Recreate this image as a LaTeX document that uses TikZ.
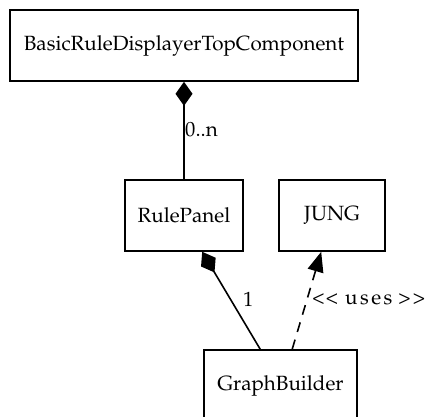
\documentclass[tikz,border=0pt]{standalone}
\usepackage[T1]{fontenc}
\usepackage{mathpazo}
\usetikzlibrary{arrows.meta}
\begin{document}
\begin{tikzpicture}[x=1pt,y=-1pt,
  cls/.style={draw,line width=1.6pt,minimum height=71pt,inner sep=0pt,font=\fontsize{20.6}{24}\selectfont},
  lbl/.style={font=\fontsize{20.6}{24}\selectfont,inner sep=0pt},
  comp/.style={line width=1.6pt,{Diamond[length=24pt,width=17pt,fill=black]}-},
  uses/.style={line width=1.6pt,dash pattern=on 10pt off 8pt,-{Triangle[length=20pt,width=16pt,fill=black]}}]
\useasboundingbox (0,0) rectangle (425,416);
\clip (0,0) rectangle (425,416);
\node[cls,minimum width=348pt] (top) at (184,45.5) {BasicRuleDisplayerTopComponent};
\node[cls,minimum width=118pt] (rp) at (184,215.5) {RulePanel};
\node[cls,minimum width=106pt] (jung) at (332,215.5) {JUNG};
\node[cls,minimum width=153pt] (gb) at (280.5,385.5) {GraphBuilder};
\draw[comp] (top.south) -- (rp.north);
\draw[comp] ([xshift=78pt]rp.south west) -- ([xshift=57pt]gb.north west);
\draw[uses] ([xshift=89pt]gb.north west) -- ([xshift=43pt]jung.south west);
\node[lbl,anchor=west] (l1) at (185,130) {0..n};
\node[lbl,anchor=west] (l2) at (243,299) {1};
\node[lbl,anchor=west] (l3) at (312,299) {\textless\kern1pt\textless\kern7pt u\kern2.5pt s\kern2.5pt e\kern2.5pt s\kern6pt\textgreater\kern2pt\textgreater};
\end{tikzpicture}
\end{document}
